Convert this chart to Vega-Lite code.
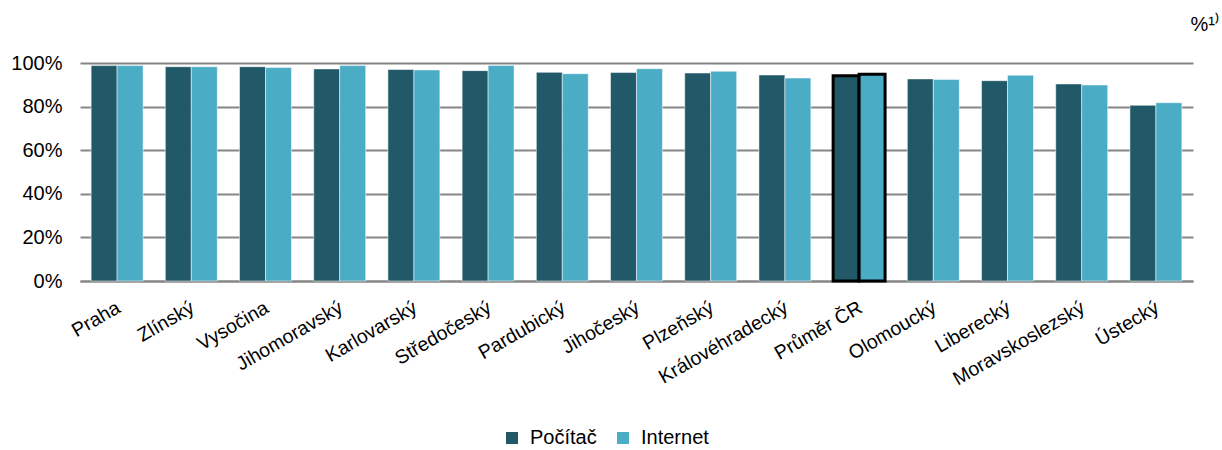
{
  "$schema": "https://vega.github.io/schema/vega-lite/v6.json",
  "width": 1113,
  "height": 218,
  "autosize": {"type": "none"},
  "padding": {"left": 80, "top": 63, "right": 29, "bottom": 169},
  "background": "white",
  "config": {
    "font": "Liberation Sans",
    "view": {"stroke": null}
  },
  "title": {
    "text": "%¹⁾",
    "anchor": "end",
    "orient": "top",
    "offset": 18,
    "fontSize": 20,
    "fontWeight": "normal",
    "font": "Liberation Sans",
    "color": "#000000",
    "dx": 27
  },
  "data": {
    "values": [
      {"kraj": "Praha", "typ": "Počítač", "v": 98.8},
      {"kraj": "Praha", "typ": "Internet", "v": 98.8},
      {"kraj": "Zlínský", "typ": "Počítač", "v": 98.3},
      {"kraj": "Zlínský", "typ": "Internet", "v": 98.3},
      {"kraj": "Vysočina", "typ": "Počítač", "v": 98.3},
      {"kraj": "Vysočina", "typ": "Internet", "v": 97.9},
      {"kraj": "Jihomoravský", "typ": "Počítač", "v": 97.3},
      {"kraj": "Jihomoravský", "typ": "Internet", "v": 98.8},
      {"kraj": "Karlovarský", "typ": "Počítač", "v": 97.0},
      {"kraj": "Karlovarský", "typ": "Internet", "v": 96.8},
      {"kraj": "Středočeský", "typ": "Počítač", "v": 96.5},
      {"kraj": "Středočeský", "typ": "Internet", "v": 98.9},
      {"kraj": "Pardubický", "typ": "Počítač", "v": 95.7},
      {"kraj": "Pardubický", "typ": "Internet", "v": 95.1},
      {"kraj": "Jihočeský", "typ": "Počítač", "v": 95.6},
      {"kraj": "Jihočeský", "typ": "Internet", "v": 97.4},
      {"kraj": "Plzeňský", "typ": "Počítač", "v": 95.4},
      {"kraj": "Plzeňský", "typ": "Internet", "v": 96.2},
      {"kraj": "Královéhradecký", "typ": "Počítač", "v": 94.5},
      {"kraj": "Královéhradecký", "typ": "Internet", "v": 93.1},
      {"kraj": "Průměr ČR", "typ": "Počítač", "v": 94.1},
      {"kraj": "Průměr ČR", "typ": "Internet", "v": 94.8},
      {"kraj": "Olomoucký", "typ": "Počítač", "v": 92.7},
      {"kraj": "Olomoucký", "typ": "Internet", "v": 92.4},
      {"kraj": "Liberecký", "typ": "Počítač", "v": 91.9},
      {"kraj": "Liberecký", "typ": "Internet", "v": 94.4},
      {"kraj": "Moravskoslezský", "typ": "Počítač", "v": 90.4},
      {"kraj": "Moravskoslezský", "typ": "Internet", "v": 89.9},
      {"kraj": "Ústecký", "typ": "Počítač", "v": 80.6},
      {"kraj": "Ústecký", "typ": "Internet", "v": 81.8}
    ]
  },
  "mark": {"type": "bar"},
  "encoding": {
    "x": {
      "field": "kraj",
      "type": "nominal",
      "sort": null,
      "scale": {"paddingInner": 0.3, "paddingOuter": 0.15},
      "axis": {
        "title": null,
        "labelAngle": -30,
        "labelAlign": "right",
        "labelBaseline": "top",
        "labelFontSize": 19.5,
        "labelColor": "#000000",
        "labelPadding": 17,
        "ticks": false,
        "domain": true,
        "domainColor": "#868686",
        "domainWidth": 2,
        "labelFont": "Liberation Sans",
        "labelOverlap": false,
        "labelOffset": -3
      }
    },
    "xOffset": {
      "field": "typ",
      "type": "nominal",
      "sort": ["Počítač", "Internet"]
    },
    "y": {
      "field": "v",
      "type": "quantitative",
      "scale": {"domain": [0, 100]},
      "axis": {
        "title": null,
        "values": [0, 20, 40, 60, 80, 100],
        "labelExpr": "datum.value + '%'",
        "labelFontSize": 20,
        "labelColor": "#000000",
        "labelPadding": 18,
        "ticks": false,
        "domain": false,
        "grid": true,
        "gridColor": "#868686",
        "gridWidth": 2,
        "labelFont": "Liberation Sans"
      }
    },
    "color": {
      "field": "typ",
      "type": "nominal",
      "sort": ["Počítač", "Internet"],
      "scale": {"domain": ["Počítač", "Internet"], "range": ["#215968", "#4BACC6"]},
      "legend": {
        "title": null,
        "orient": "none",
        "direction": "horizontal",
        "legendX": 422,
        "legendY": 365,
        "symbolType": "square",
        "symbolSize": 144,
        "symbolStrokeWidth": 0,
        "labelFontSize": 20,
        "labelColor": "#000000",
        "labelFont": "Liberation Sans",
        "columnPadding": 16,
        "labelOffset": 8
      }
    },
    "stroke": {
      "condition": {"test": "datum.kraj === 'Průměr ČR'", "value": "#000000"},
      "value": "#FFFFFF"
    },
    "strokeWidth": {
      "condition": {"test": "datum.kraj === 'Průměr ČR'", "value": 3},
      "value": 0.5
    }
  }
}
